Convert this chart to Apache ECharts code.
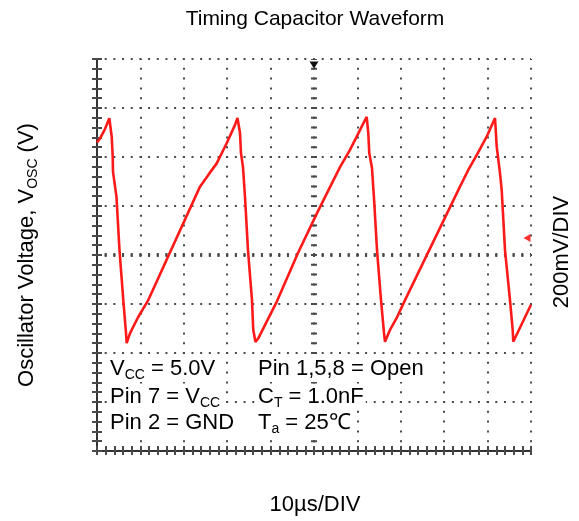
<!DOCTYPE html>
<html>
<head>
<meta charset="utf-8">
<script src="https://cdn.jsdelivr.net/npm/echarts@6/dist/echarts.min.js"></script>
<style>
html,body{margin:0;padding:0;background:#fff;}
#chart{width:579px;height:521px;}
</style>
</head>
<body>
<div id="chart"></div>
<script>
// Time in µs (10 µs/DIV, 10 divisions), voltage in mV (200 mV/DIV, 8 divisions, bottom = 0)
const timeUs = [
  0, 0.77, 1.84, 2.84,
  3.16, 3.39, 3.62, 3.69, 4.49, 5.18, 6.06, 6.68, 6.84,
  7.60, 9.52, 11.82, 23.73, 25.65, 27.58, 29.88, 31.80, 32.37,
  32.95, 33.18, 33.64, 34.10, 34.79, 35.71, 36.01, 36.52,
  37.17, 39.10, 41.41, 46.31, 50.69, 55.99, 58.29, 59.84, 60.99, 62.14,
  62.51, 62.74, 63.36, 63.82, 64.52, 65.44, 66.13, 66.36,
  67.51, 69.05, 70.97, 83.64, 85.55, 87.49, 89.79, 91.71,
  92.10, 92.86, 93.25, 94.01, 95.16, 95.78, 95.92,
  99.77, 100
];
const voltMv = [
  1259, 1278, 1314, 1358,
  1351, 1283, 1201, 1139, 1037, 820, 616, 482, 440,
  480, 548, 616, 1079, 1127, 1174, 1256, 1331, 1359,
  1298, 1216, 1159, 1037, 820, 616, 494, 445,
  460, 528, 609, 808, 971, 1159, 1229, 1283, 1324, 1364,
  1297, 1215, 1155, 1033, 820, 616, 482, 446,
  494, 543, 616, 1079, 1147, 1208, 1283, 1359,
  1242, 1133, 1065, 820, 616, 494, 446,
  589, 596
];
const xRange = [0, 100];   // µs
const yRange = [0, 1600];  // mV
const xDiv = 10;           // µs per division
const yDiv = 200;          // mV per division
const triggerMarker = [50, 1600];
const levelMarker = [100, 869];

const titleText = 'Timing Capacitor Waveform';
const yLabelText = 'Oscillator Voltage, V{s|OSC} (V)';
const rightLabelText = '200mV/DIV';
const bottomLabelText = '10µs/DIV';
const noteLeft = ['V{s|CC} = 5.0V', 'Pin 7 = V{s|CC}', 'Pin 2 = GND'];
const noteRight = ['Pin 1,5,8 = Open', 'C{s|T} = 1.0nF', 'T{s|a} = 25℃'];

const FONT = '"Liberation Sans", Arial, sans-serif';
const dotColor = '#4a4a4a';

const data = timeUs.map((t, i) => [t, voltMv[i]]);

function axisCommon(extra) {
  return Object.assign({
    type: 'value',
    axisLabel: { show: false },
    axisTick: { show: true, inside: true, length: 5, lineStyle: { color: dotColor, width: 2 } },
    minorTick: { show: true, splitNumber: 5, length: 5, lineStyle: { color: dotColor, width: 2 } },
    splitLine: { show: false },
    axisLine: { show: false }
  }, extra);
}

const rich = { s: { fontSize: 14, lineHeight: 14, verticalAlign: 'bottom', fontFamily: FONT, fill: '#000' } };

function noteText(str, x, y) {
  return {
    type: 'text', x: x, y: y, z: 100,
    style: {
      text: str, rich: rich, fontSize: 22, lineHeight: 26, fontFamily: FONT, fill: '#000',
      textAlign: 'left', verticalAlign: 'middle', backgroundColor: '#fff', padding: [0, 2]
    }
  };
}

const rowsY = [369, 397, 423];
const graphics = [
  { type: 'text', x: 315, y: 19, style: { text: titleText, fontSize: 21, fontFamily: FONT, fill: '#000', textAlign: 'center', verticalAlign: 'middle' } },
  { type: 'text', x: 27, y: 255, rotation: Math.PI / 2, style: { text: yLabelText, rich: rich, fontSize: 22, lineHeight: 26, fontFamily: FONT, fill: '#000', textAlign: 'center', verticalAlign: 'middle' } },
  { type: 'text', x: 562, y: 252, rotation: Math.PI / 2, style: { text: rightLabelText, fontSize: 22, fontFamily: FONT, fill: '#000', textAlign: 'center', verticalAlign: 'middle' } },
  { type: 'text', x: 315, y: 505, style: { text: bottomLabelText, fontSize: 22, fontFamily: FONT, fill: '#000', textAlign: 'center', verticalAlign: 'middle' } }
];
noteLeft.forEach((t, i) => graphics.push(noteText(t, 108, rowsY[i])));
noteRight.forEach((t, i) => graphics.push(noteText(t, 256, rowsY[i])));

const chart = echarts.init(document.getElementById('chart'), null, { renderer: 'canvas' });
chart.setOption({
  animation: false,
  backgroundColor: '#fff',
  grid: { left: 97, top: 59, width: 434, height: 392, containLabel: false },
  xAxis: [
    axisCommon({
      min: xRange[0], max: xRange[1], interval: xDiv, position: 'bottom',
      axisLine: { show: true, lineStyle: { color: '#333', width: 2 } },
      splitLine: { show: true, lineStyle: { color: dotColor, width: 2, type: [2, 7.8], dashOffset: 1 } }
    }),
    axisCommon({ min: xRange[0], max: xRange[1], interval: xDiv, position: 'top',
      axisTick: { show: true, inside: true, length: 4, lineStyle: { color: dotColor, width: 2 } },
      minorTick: { show: true, splitNumber: 5, length: 4, lineStyle: { color: dotColor, width: 2 } } })
  ],
  yAxis: [
    axisCommon({
      min: yRange[0], max: yRange[1], interval: yDiv, position: 'left',
      splitLine: { show: true, lineStyle: { color: dotColor, width: 2, type: [2, 6.68], dashOffset: 1 } }
    }),
    axisCommon({ min: yRange[0], max: yRange[1], interval: yDiv, position: 'right',
      axisLine: { show: true, lineStyle: { color: '#333', width: 2 } } })
  ],
  series: [{
    type: 'line',
    data: data,
    showSymbol: false,
    symbol: 'none',
    lineStyle: { color: '#ff1a1a', width: 2.6 },
    z: 5,
    markLine: {
      silent: true, symbol: 'none', label: { show: false }, animation: false,
      data: [
        { xAxis: (xRange[0] + xRange[1]) / 2, lineStyle: { color: dotColor, width: 6, type: [2, 7.8], dashOffset: 1 } },
        { yAxis: (yRange[0] + yRange[1]) / 2, lineStyle: { color: dotColor, width: 4, type: [2, 6.68], dashOffset: 1 } }
      ]
    },
    markPoint: {
      silent: true, label: { show: false }, animation: false,
      data: [
        { coord: triggerMarker, symbol: 'triangle', symbolRotate: 180, symbolSize: [9, 7], symbolOffset: [0, 6], itemStyle: { color: '#111' } },
        { coord: levelMarker, symbol: 'triangle', symbolRotate: 90, symbolSize: [8, 7], symbolOffset: [-4, 0], itemStyle: { color: '#ff3030' } }
      ]
    }
  }],
  graphic: graphics
});
</script>
</body>
</html>
